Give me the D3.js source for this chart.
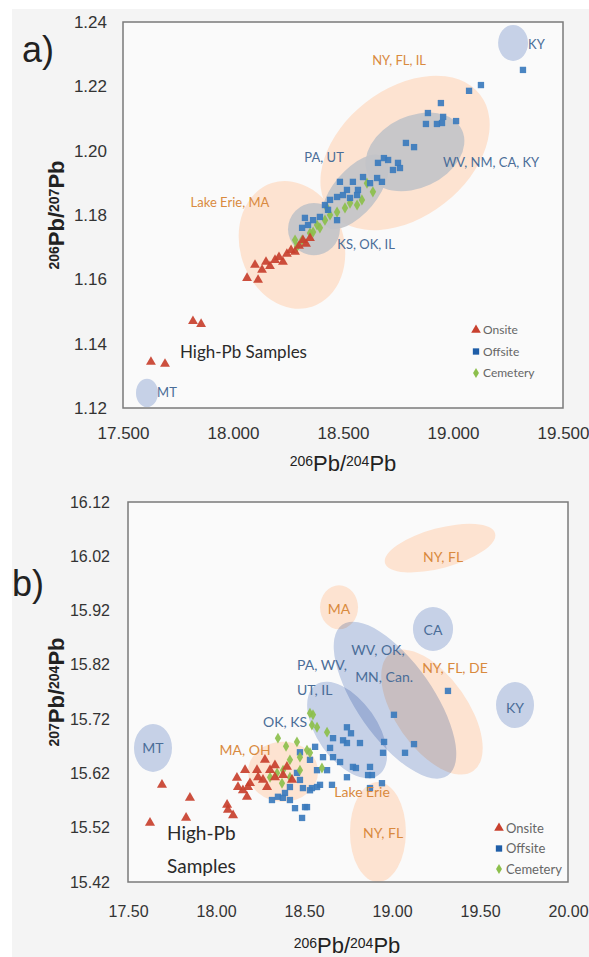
<!DOCTYPE html>
<html><head><meta charset="utf-8">
<script src="https://cdn.jsdelivr.net/npm/d3@7"></script>
<style>
html,body{margin:0;padding:0;background:#fff;}
svg{display:block;}
</style></head><body>
<svg id="c" width="589" height="957"></svg>
<script>
// ---------- Panel a data: 206Pb/204Pb vs 206Pb/207Pb ----------
const aOnsite = [[17.627,1.1343],[17.691,1.1337],[17.818,1.1470],[17.855,1.1461],[18.064,1.1604],[18.100,1.1645],[18.114,1.1598],[18.132,1.1629],[18.150,1.1654],[18.168,1.1641],[18.191,1.1660],[18.209,1.1669],[18.227,1.1654],[18.245,1.1679],[18.264,1.1691],[18.282,1.1685],[18.300,1.1704],[18.318,1.1722],[18.332,1.1710],[18.350,1.1728]];
const aOffsite = [[19.318,1.2251],[19.127,1.2204],[19.073,1.2186],[18.945,1.2148],[18.886,1.2117],[18.877,1.2083],[18.955,1.2105],[18.950,1.2086],[19.014,1.2092],[18.927,1.2083],[18.786,1.2024],[18.823,1.2011],[18.659,1.1962],[18.705,1.1971],[18.727,1.1940],[18.750,1.1962],[18.686,1.1977],[18.759,1.1946],[18.486,1.1903],[18.518,1.1878],[18.545,1.1903],[18.568,1.1878],[18.591,1.1918],[18.623,1.1899],[18.655,1.1915],[18.677,1.1903],[18.441,1.1847],[18.473,1.1856],[18.500,1.1862],[18.532,1.1853],[18.564,1.1862],[18.432,1.1816],[18.418,1.1831],[18.395,1.1794],[18.364,1.1784],[18.341,1.1769],[18.314,1.1760],[18.327,1.1791],[18.473,1.1784]];
const aCemetery = [[18.291,1.1701],[18.314,1.1722],[18.350,1.1744],[18.382,1.1769],[18.418,1.1784],[18.441,1.1800],[18.473,1.1809],[18.509,1.1822],[18.532,1.1837],[18.564,1.1831],[18.586,1.1847],[18.609,1.1899],[18.636,1.1872],[18.427,1.1822],[18.395,1.1760],[18.364,1.1747],[18.282,1.1722]];
const aXTicks = [17.5,18.0,18.5,19.0,19.5];
const aYTicks = [1.12,1.14,1.16,1.18,1.20,1.22,1.24];
// regions: [label, cx, cy, rx(x-units), ry(y-units), rotation deg, kind]
const aRegions = [
  ["NY, FL, IL",18.782,1.1993,0.432,0.0199,-38,"o"],
  ["Lake Erie, MA",18.268,1.1707,0.236,0.0202,-18,"o"],
  ["KY",19.273,1.2335,0.068,0.0056,0,"b"],
  ["MT",17.609,1.1247,0.05,0.0044,0,"b"],
  ["WV, NM, CA, KY",18.827,1.1996,0.236,0.0112,-25,"g"],
  ["PA, UT",18.555,1.1872,0.205,0.0068,-50,"g"],
  ["KS, OK, IL",18.368,1.1756,0.118,0.0081,0,"g"]
];
// labels: [text, x, y, kind, anchor]
const aLabels = [
  ["KY",19.341,1.2329,"b","start"],
  ["NY, FL, IL",18.755,1.2282,"o","middle"],
  ["PA, UT",18.414,1.1980,"b","middle"],
  ["WV, NM, CA, KY",19.173,1.1962,"b","middle"],
  ["KS, OK, IL",18.605,1.1707,"b","middle"],
  ["Lake Erie, MA",17.986,1.1840,"o","middle"],
  ["MT",17.655,1.1247,"b","start"]
];

// ---------- Panel b data: 206Pb/204Pb vs 207Pb/204Pb ----------
const bOnsite = [[17.693,15.599],[17.625,15.529],[17.852,15.575],[17.830,15.538],[18.063,15.562],[18.068,15.553],[18.097,15.543],[18.119,15.612],[18.153,15.589],[18.176,15.577],[18.193,15.602],[18.233,15.626],[18.125,15.595],[18.182,15.595],[18.239,15.613],[18.267,15.608],[18.307,15.626],[18.335,15.613],[18.381,15.617],[18.403,15.632],[18.432,15.608],[18.290,15.595],[18.165,15.626],[18.278,15.645],[18.335,15.635]];
const bOffsite = [[19.011,15.728],[19.125,15.674],[19.074,15.658],[18.955,15.678],[18.949,15.658],[18.744,15.705],[18.767,15.694],[18.818,15.676],[18.875,15.632],[18.864,15.617],[18.943,15.602],[18.875,15.593],[18.795,15.630],[18.744,15.676],[18.665,15.685],[18.705,15.641],[18.659,15.599],[18.506,15.558],[18.489,15.538],[18.574,15.595],[18.494,15.593],[18.545,15.593],[18.722,15.681],[18.778,15.632],[18.563,15.669],[18.608,15.650],[18.665,15.650],[18.631,15.626],[18.574,15.626],[18.534,15.645],[18.477,15.659],[18.460,15.621],[18.477,15.608],[18.420,15.595],[18.318,15.571],[18.352,15.577],[18.392,15.584],[18.534,15.589],[18.591,15.599],[18.744,15.613],[18.886,15.617],[18.517,15.558],[19.318,15.772],[18.648,15.667],[18.420,15.571],[18.449,15.556],[18.380,15.575]];
const bCemetery = [[18.551,15.728],[18.352,15.685],[18.398,15.670],[18.460,15.678],[18.545,15.709],[18.574,15.705],[18.631,15.696],[18.517,15.663],[18.477,15.650],[18.420,15.645],[18.381,15.626],[18.347,15.621],[18.307,15.613],[18.420,15.613],[18.375,15.602],[18.602,15.630],[18.534,15.658],[18.534,15.731],[18.477,15.626]];
const bXTicks = [17.5,18.0,18.5,19.0,19.5,20.0];
const bYTicks = [15.42,15.52,15.62,15.72,15.82,15.92,16.02,16.12];
const bRegions = [
  ["NY, FL",19.273,16.035,0.324,0.0368,-15,"o"],
  ["MA",18.699,15.926,0.108,0.0405,0,"o"],
  ["NY, FL, DE",19.227,15.733,0.409,0.0663,55,"o"],
  ["NY, FL",18.920,15.512,0.159,0.092,0,"o"],
  ["MA, OH",18.381,15.623,0.199,0.0552,0,"o"],
  ["CA",19.233,15.886,0.114,0.0405,0,"b"],
  ["KY",19.699,15.746,0.108,0.0424,0,"b"],
  ["MT",17.642,15.667,0.108,0.0442,0,"b"],
  ["WV, OK, MN, Can.",19.017,15.755,0.523,0.070,55,"b"],
  ["PA, WV, UT, IL",18.745,15.700,0.3125,0.0552,55,"b"]
];
const bLabels = [
  ["NY, FL",19.290,16.019,"o","middle"],
  ["MA",18.699,15.923,"o","middle"],
  ["CA",19.233,15.884,"b","middle"],
  ["WV, OK,",18.920,15.847,"b","middle"],
  ["MN, Can.",18.955,15.798,"b","middle"],
  ["PA, WV,",18.460,15.820,"b","start"],
  ["UT, IL",18.460,15.774,"b","start"],
  ["NY, FL, DE",19.358,15.814,"o","middle"],
  ["KY",19.699,15.740,"b","middle"],
  ["MT",17.642,15.667,"b","middle"],
  ["OK, KS",18.392,15.715,"b","middle"],
  ["MA, OH",18.165,15.663,"o","middle"],
  ["Lake Erie",18.830,15.586,"o","middle"],
  ["NY, FL",18.949,15.510,"o","middle"]
];
const seriesNames = ["Onsite","Offsite","Cemetery"];

// ---------- drawing ----------
const svg = d3.select("#c");
svg.append("rect").attr("x",12).attr("y",9).attr("width",577).attr("height",948).attr("fill","#f4f4f4");

const COL = {Onsite:"#c8402e", Offsite:"#3b7bbd", Cemetery:"#8cbf4c"};
const SYM = {Onsite:d3.symbolTriangle, Offsite:d3.symbolSquare, Cemetery:d3.symbolDiamond};
const FILL = {o:"#fde3d1", b:"#cad6ec", g:"#c2c3c8"};
const FOP = {o:1, b:1, g:0.9};
const BLEND = {o:"normal", b:"multiply", g:"normal"};
const ORDER = {o:0, g:1, b:2};
const TXT = {o:"#d98a3e", b:"#4a6d98"};

function panel(cfg){
  const x = d3.scaleLinear().domain(cfg.xd).range(cfg.xr);
  const y = d3.scaleLinear().domain(cfg.yd).range(cfg.yr);
  const g = svg.append("g");
  const bg = g.append("g").style("isolation","isolate");
  bg.append("rect").attr("x",cfg.xr[0]).attr("y",cfg.yr[1]).attr("width",cfg.xr[1]-cfg.xr[0]).attr("height",cfg.yr[0]-cfg.yr[1]).attr("fill","#fafafa");
  const regs = cfg.regions.slice().sort((a,b)=>ORDER[a[6]]-ORDER[b[6]]);
  bg.selectAll("ellipse").data(regs).join("ellipse")
    .attr("transform",d=>`translate(${x(d[1])},${y(d[2])}) rotate(${d[5]})`)
    .attr("rx",d=>Math.abs(x(d[1]+d[3])-x(d[1])))
    .attr("ry",d=>Math.abs(y(d[2]+d[4])-y(d[2])))
    .attr("fill",d=>FILL[d[6]]).attr("fill-opacity",d=>FOP[d[6]])
    .style("mix-blend-mode",d=>BLEND[d[6]]);
  // box
  g.append("rect").attr("x",cfg.xr[0]).attr("y",cfg.yr[1]).attr("width",cfg.xr[1]-cfg.xr[0]).attr("height",cfg.yr[0]-cfg.yr[1])
    .attr("fill","none").attr("stroke","#7a7a7a").attr("stroke-width",1.5);
  // axes
  const xa = g.append("g").attr("transform",`translate(0,${cfg.yr[0]})`)
    .call(d3.axisBottom(x).tickValues(cfg.xt).tickSize(0).tickPadding(cfg.xpad).tickFormat(d3.format(cfg.xf)));
  const ya = g.append("g").attr("transform",`translate(${cfg.xr[0]},0)`)
    .call(d3.axisLeft(y).tickValues(cfg.yt).tickSize(0).tickPadding(cfg.ypad).tickFormat(d3.format(cfg.yf)));
  [xa,ya].forEach(a=>{a.select(".domain").remove();
    a.selectAll("text").attr("font-family","Liberation Sans, Arial, sans-serif").attr("font-size",cfg.tfs).attr("fill","#333");});
  // points
  const pts = g.append("g");
  cfg.series.forEach(([name,arr,size])=>{
    pts.selectAll(null).data(arr).join("path")
      .attr("transform",d=>`translate(${x(d[0])},${y(d[1])})`)
      .attr("d",d3.symbol().type(SYM[name]).size(size))
      .attr("fill",COL[name]).attr("fill-opacity",0.92);
  });
  // region labels
  g.selectAll(null).data(cfg.labels).join("text")
    .attr("x",d=>x(d[1])).attr("y",d=>y(d[2])).attr("dy","0.35em")
    .attr("text-anchor",d=>d[4])
    .attr("font-family","Lato, Open Sans, sans-serif").attr("font-size",cfg.lfs)
    .attr("fill",d=>TXT[d[3]]).text(d=>d[0]);
  // high-pb
  const hp = g.append("text").attr("font-family","Lato, Open Sans, sans-serif").attr("font-size",cfg.hfs).attr("fill","#2a2a2a");
  cfg.high.forEach(h=>hp.append("tspan").attr("x",x(h[1])).attr("y",y(h[2])).attr("dy","0.35em").text(h[0]));
  // legend
  const lg = g.append("g");
  seriesNames.forEach((n,i)=>{
    const yy = cfg.leg[1]+i*cfg.leg[2];
    lg.append("path").attr("transform",`translate(${cfg.leg[0]},${yy})`)
      .attr("d",d3.symbol().type(SYM[n]).size(n==="Cemetery"?30:40)).attr("fill",n==="Offsite"?"#1f5ea8":COL[n]);
    lg.append("text").attr("x",cfg.leg[0]+7).attr("y",yy).attr("dy","0.35em")
      .attr("font-family","Lato, Open Sans, sans-serif").attr("font-size",cfg.legfs).attr("fill","#666").text(n);
  });
  // axis titles
  function title(t,sup1,sup2,w){
    t.attr("font-family","Liberation Sans, Arial, sans-serif").attr("fill","#222");
    t.append("tspan").attr("font-size",14).attr("font-weight",w).attr("baseline-shift","35%").text(sup1);
    t.append("tspan").attr("font-size",22).attr("font-weight",w).text("Pb/");
    t.append("tspan").attr("font-size",14).attr("font-weight",w).attr("baseline-shift","35%").text(sup2);
    t.append("tspan").attr("font-size",22).attr("font-weight",w).text("Pb");
  }
  title(g.append("text").attr("x",cfg.xt_pos[0]).attr("y",cfg.xt_pos[1]).attr("text-anchor","middle"),"206","204","normal");
  title(g.append("text").attr("transform",`translate(${cfg.yt_pos[0]},${cfg.yt_pos[1]}) rotate(-90)`).attr("text-anchor","middle"),cfg.ysup1,cfg.ysup2,"bold");
  g.append("text").attr("x",cfg.tag[1]).attr("y",cfg.tag[2]).attr("font-family","Liberation Sans, Arial, sans-serif")
    .attr("font-size",36).attr("fill","#222").text(cfg.tag[0]);
}

panel({xd:[17.5,19.5], xr:[123,563], yd:[1.12,1.24], yr:[408,22],
  xt:aXTicks, yt:aYTicks, xf:".3f", yf:".2f", xpad:19, ypad:16, tfs:17,
  regions:aRegions, labels:aLabels, lfs:13, hfs:17,
  high:[["High-Pb Samples",17.759,1.1374]],
  series:[["Cemetery",aCemetery,36],["Offsite",aOffsite,40],["Onsite",aOnsite,42]],
  leg:[476,330,21.5], legfs:12,
  xt_pos:[343,471], yt_pos:[64,215], ysup1:"206", ysup2:"207",
  tag:["a)",22,62]});

panel({xd:[17.5,20.0], xr:[128,568], yd:[15.42,16.12], yr:[882,502],
  xt:bXTicks, yt:bYTicks, xf:".2f", yf:".2f", xpad:24, ypad:18, tfs:16,
  regions:bRegions, labels:bLabels, lfs:14, hfs:19,
  high:[["High-Pb",17.722,15.510],["Samples",17.722,15.448]],
  series:[["Offsite",bOffsite,40],["Cemetery",bCemetery,34],["Onsite",bOnsite,44]],
  leg:[499,828,20.5], legfs:13,
  xt_pos:[347,953], yt_pos:[64,692], ysup1:"207", ysup2:"204",
  tag:["b)",12,596]});
</script>
</body></html>
